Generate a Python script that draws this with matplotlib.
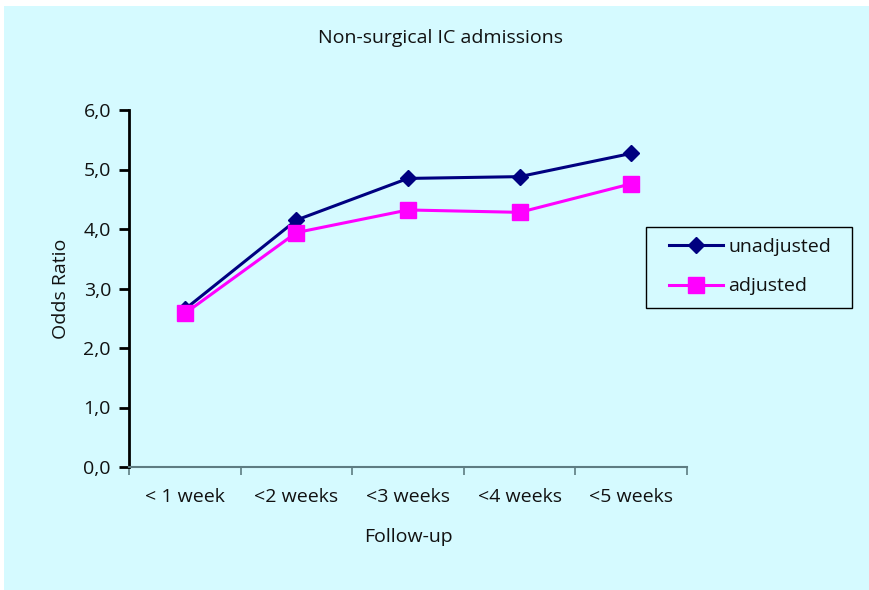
import numpy as np
import matplotlib.pyplot as plt
from matplotlib.patches import Rectangle
from matplotlib.ticker import FixedLocator, FuncFormatter

plt.rcParams['font.family'] = ['Open Sans', 'DejaVu Sans']

# Odds ratios per follow-up window
categories = ['< 1 week', '<2 weeks', '<3 weeks', '<4 weeks', '<5 weeks']
unadjusted = [2.65, 4.15, 4.85, 4.88, 5.27]
adjusted = [2.58, 3.94, 4.32, 4.28, 4.76]

bg = '#D5FAFF'
txt = '#111111'
fs = 14

fig = plt.figure(figsize=(8.7, 5.9), dpi=100)
fig.patch.set_facecolor('white')
fig.patches.append(Rectangle((4 / 870, 0), 1, 1 - 6 / 590, transform=fig.transFigure,
                             facecolor=bg, edgecolor='none', zorder=-1))

ax = fig.add_axes([129 / 870, 1 - 467 / 590, 558 / 870, 357 / 590])
ax.set_facecolor(bg)

x = np.arange(len(categories)) + 0.5
ax.plot(x, unadjusted, color='#000080', lw=2.2, marker='D', ms=8,
        label='unadjusted', clip_on=False)
ax.plot(x, adjusted, color='#FF00FF', lw=2.2, marker='s', ms=11,
        label='adjusted', clip_on=False)

ax.set_xlim(0, len(categories))
ax.set_ylim(0, 6)

# category ticks sit between the points, labels centred under each point
ax.xaxis.set_major_locator(FixedLocator(np.arange(len(categories) + 1)))
ax.xaxis.set_minor_locator(FixedLocator(x))
ax.set_xticklabels([])
ax.set_xticklabels(categories, minor=True)
ax.tick_params(axis='x', which='major', length=6, width=1.2, color='#5E7C82', direction='out')
ax.tick_params(axis='x', which='minor', length=0, pad=15, labelsize=fs, labelcolor=txt)

ax.set_yticks(np.arange(0, 7, 1))
ax.yaxis.set_major_formatter(FuncFormatter(lambda v, p: f'{v:.1f}'.replace('.', ',')))
ax.tick_params(axis='y', length=7, width=2, color='black', pad=6, labelsize=fs,
               labelcolor=txt)

for s in ['top', 'right']:
    ax.spines[s].set_visible(False)
ax.spines['left'].set_linewidth(2)
ax.spines['left'].set_color('black')
ax.spines['bottom'].set_linewidth(1.5)
ax.spines['bottom'].set_color('#5E7C82')

fig.text(440 / 870, 1 - 38 / 590, 'Non-surgical IC admissions', fontsize=fs, color=txt,
         ha='center', va='center')
ax.set_xlabel('Follow-up', fontsize=fs, color=txt, labelpad=16)
ax.set_ylabel('Odds Ratio', fontsize=fs, color=txt, labelpad=10)

# legend box drawn separately so the entries can sit inside with wide margins
fig.patches.append(Rectangle((646 / 870, 1 - 308 / 590), 206 / 870, 81 / 590,
                             transform=fig.transFigure, facecolor=bg,
                             edgecolor='black', lw=1, zorder=1))
leg = fig.legend(loc='upper left', bbox_to_anchor=(669 / 870, 1 - 238 / 590),
                 fontsize=fs, frameon=False, borderpad=0, borderaxespad=0,
                 handlelength=2.78, labelspacing=1.1, handletextpad=0.26)
for t in leg.get_texts():
    t.set_color(txt)
leg.set_zorder(2)

fig.savefig('out.png', dpi=100, facecolor=fig.get_facecolor())
